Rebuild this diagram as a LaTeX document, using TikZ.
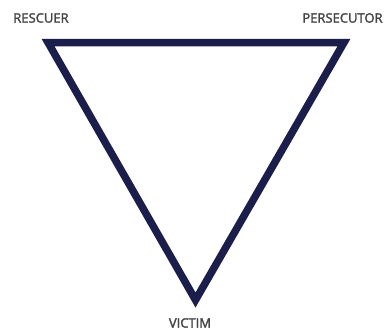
\documentclass[tikz,border=0pt]{standalone}
\usepackage{fontspec}
\newfontfamily\labfont{Open Sans}[FakeBold=2]
\definecolor{navy}{HTML}{1B1E4B}
\definecolor{lbl}{HTML}{444444}
\begin{document}
\begin{tikzpicture}[x=1pt,y=-1pt,
  lab/.style={text=lbl,font=\labfont\fontsize{13}{13}\selectfont,inner sep=0pt,anchor=center},
  tri/.style={draw=navy,line width=7.5pt,miter limit=10,line join=miter}]
\useasboundingbox (0,0) rectangle (389,330);
\coordinate (r) at (48,42.5);
\coordinate (p) at (344,42.5);
\coordinate (v) at (195.5,300);
\draw[tri] (r) -- (p) -- (v) -- cycle;
\node[lab] (rescuer) at (41,18) {RESCUER};
\node[lab] (persecutor) at (342.5,18) {PERSECUTOR};
\node[lab] (victim) at (190,323) {VICTIM};
\end{tikzpicture}
\end{document}
